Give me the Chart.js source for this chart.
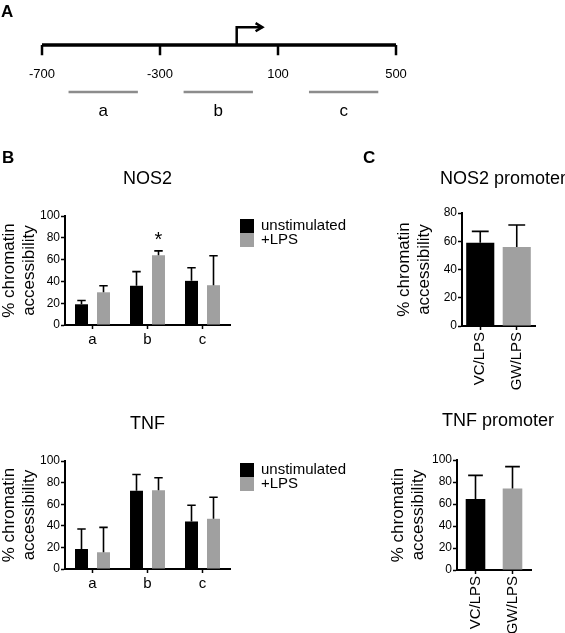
<!DOCTYPE html>
<html>
<head>
<meta charset="utf-8">
<script src="https://cdn.jsdelivr.net/npm/chart.js@4.4.1/dist/chart.umd.min.js"></script>
<style>
body { margin: 0; background: #fff; }
#fig { position: relative; width: 565px; height: 633px; overflow: hidden; font-family: 'Liberation Sans', Arial, sans-serif; }
.box { position: absolute; }
.box canvas { display: block; }
.tag { position: absolute; font-weight: bold; font-size: 17px; line-height: 17px; }
</style>
</head>
<body>
<div id="fig">
  <div class="box" style="left:0;top:0"><canvas id="mapChart" width="420" height="130"></canvas></div>
  <div class="box" style="left:0;top:150px"><canvas id="nosChart" width="360" height="200"></canvas></div>
  <div class="box" style="left:0;top:395px"><canvas id="tnfChart" width="360" height="200"></canvas></div>
  <div class="box" style="left:385px;top:150px;width:236px"><canvas id="nosPromChart" width="236" height="250"></canvas></div>
  <div class="box" style="left:385px;top:392px;width:226px"><canvas id="tnfPromChart" width="226" height="241"></canvas></div>
  <div class="tag" style="left:1px;top:3px">A</div>
  <div class="tag" style="left:2px;top:149px">B</div>
  <div class="tag" style="left:363px;top:149px">C</div>
</div>
<script>
// panel A - promoter map (bp positions)
const mapTicks = [-700, -300, 100, 500];
const tssPos = -40;
const arrowEnd = 47;
const regionNames = ['a', 'b', 'c'];
const regionStart = [-610, -220, 205];
const regionEnd = [-375, 15, 440];

// panel B - % chromatin accessibility per region
const regions = ['a', 'b', 'c'];
const seriesNames = ['unstimulated', '+LPS'];
const nosUnstim = [19, 36, 40.5];
const nosUnstimErr = [3.5, 13, 12];
const nosLps = [30, 64, 36.5];
const nosLpsErr = [6, 4, 27];
const nosStars = ['', '*', ''];
const tnfUnstim = [18.5, 72.5, 44];
const tnfUnstimErr = [18.5, 15, 15];
const tnfLps = [15.5, 73, 46.5];
const tnfLpsErr = [23, 11.5, 20];

// panel C - promoter accessibility per treatment
const treatments = ['VC/LPS', 'GW/LPS'];
const nosProm = [59, 56];
const nosPromErr = [8, 15.5];
const tnfProm = [64.5, 74];
const tnfPromErr = [21.5, 20];

const BLACK = '#000000';
const GREY = '#a0a0a0';
const FONT = "'Liberation Sans', Arial, sans-serif";

Chart.defaults.font.family = FONT;
Chart.defaults.color = '#000';
Chart.defaults.animation = false;
Chart.defaults.responsive = false;
Chart.defaults.plugins.legend.display = false;
Chart.defaults.plugins.tooltip.enabled = false;

// one sided error bars (+ significance star)
const errorBars = {
  id: 'errorBars',
  afterDatasetsDraw(chart, args, opts) {
    const ctx = chart.ctx;
    const y = chart.scales.y;
    ctx.save();
    ctx.strokeStyle = '#000';
    ctx.lineWidth = 1.6;
    chart.data.datasets.forEach((ds, di) => {
      if (!ds.errors) return;
      chart.getDatasetMeta(di).data.forEach((bar, i) => {
        const top = y.getPixelForValue(ds.data[i] + ds.errors[i]);
        const half = bar.width * (opts.cap || 0.65) / 2;
        ctx.beginPath();
        ctx.moveTo(bar.x, bar.y);
        ctx.lineTo(bar.x, top);
        ctx.moveTo(bar.x - half, top);
        ctx.lineTo(bar.x + half, top);
        ctx.stroke();
        if (ds.stars && ds.stars[i]) {
          ctx.fillStyle = '#000';
          ctx.font = '20px ' + FONT;
          ctx.textAlign = 'center';
          ctx.textBaseline = 'middle';
          ctx.fillText(ds.stars[i], bar.x, top - 10);
        }
      });
    });
    ctx.restore();
  }
};

// legend block to the right of the plot
const sideLegend = {
  id: 'sideLegend',
  afterDraw(chart, args, opts) {
    if (!opts || opts.x === undefined) return;
    const ctx = chart.ctx;
    ctx.save();
    ctx.font = '15px ' + FONT;
    ctx.textBaseline = 'middle';
    ctx.textAlign = 'left';
    chart.data.datasets.forEach((ds, i) => {
      const top = opts.y + i * 14;
      ctx.fillStyle = ds.backgroundColor;
      ctx.fillRect(opts.x, top, 14, 14);
      ctx.fillStyle = '#000';
      ctx.fillText(ds.label, opts.x + 21, top + 7);
    });
    ctx.restore();
  }
};

function barChart(id, o) {
  const scales = {
    y: {
      min: 0, max: o.yMax,
      ticks: { stepSize: 20, padding: 1, font: { size: 12 } },
      grid: { drawOnChartArea: false, tickLength: 4, tickColor: '#000', tickWidth: 1.5 },
      border: { display: true, color: '#000', width: 2 },
      title: {
        display: true, text: ['% chromatin', 'accessibility'],
        font: { size: 17, lineHeight: 1.15 }, padding: { top: o.yTitlePad, bottom: 0 }
      },
      afterFit(s) { s.width = o.yWidth; }
    },
    x: {
      ticks: { font: { size: 15 }, padding: 2, autoSkip: false, maxRotation: o.rot, minRotation: o.rot },
      grid: { offset: false, drawOnChartArea: false, tickLength: 4, tickColor: '#000', tickWidth: 1.5 },
      border: { display: true, color: '#000', width: 2 },
      afterFit(s) { s.height = o.xHeight; }
    }
  };
  if (o.rightGap) {
    // empty spacer on the right so the full-width title centres like the original
    scales.gap = {
      position: 'right', min: 0, max: o.yMax,
      ticks: { display: false }, grid: { display: false, drawTicks: false }, border: { display: false },
      afterFit(s) { s.width = o.rightGap; }
    };
  }
  return new Chart(document.getElementById(id), {
    type: 'bar',
    data: { labels: o.labels, datasets: o.datasets },
    plugins: [errorBars, sideLegend],
    options: {
      layout: { padding: { left: 0, top: 0, right: o.padRight, bottom: 0 } },
      datasets: { bar: { barPercentage: o.barPct, categoryPercentage: o.catPct } },
      plugins: {
        title: {
          display: true, text: o.title, fullSize: o.titleFull,
          font: { size: 18, weight: 'normal' },
          padding: { top: 18, bottom: o.titleGap }
        },
        errorBars: { cap: o.cap },
        sideLegend: o.legend
      },
      scales: scales
    }
  });
}

function groupSets(a, aErr, b, bErr, stars) {
  return [
    { label: seriesNames[0], data: a, errors: aErr, backgroundColor: BLACK },
    { label: seriesNames[1], data: b, errors: bErr, stars: stars, backgroundColor: GREY }
  ];
}

barChart('nosChart', {
  title: 'NOS2', labels: regions, datasets: groupSets(nosUnstim, nosUnstimErr, nosLps, nosLpsErr, nosStars),
  yMax: 100, yWidth: 65, xHeight: 25, padRight: 130, titleGap: 26.4, yTitlePad: 0, titleFull: false,
  barPct: 0.59, catPct: 0.8, rot: 0, cap: 0.65, legend: { x: 240, y: 69 }
});

barChart('tnfChart', {
  title: 'TNF', labels: regions, datasets: groupSets(tnfUnstim, tnfUnstimErr, tnfLps, tnfLpsErr, null),
  yMax: 100, yWidth: 65, xHeight: 26, padRight: 130, titleGap: 26.4, yTitlePad: 0, titleFull: false,
  barPct: 0.59, catPct: 0.8, rot: 0, cap: 0.65, legend: { x: 240, y: 68 }
});

barChart('nosPromChart', {
  title: 'NOS2 promoter', labels: treatments,
  datasets: [{ label: 'NOS2 promoter', data: nosProm, errors: nosPromErr, backgroundColor: [BLACK, GREY] }],
  yMax: 80, yWidth: 77, xHeight: 74, padRight: 0, rightGap: 86, titleGap: 23.4, yTitlePad: 10, titleFull: true,
  barPct: 0.77, catPct: 1, rot: 90, cap: 0.6
});

barChart('tnfPromChart', {
  title: 'TNF promoter', labels: treatments,
  datasets: [{ label: 'TNF promoter', data: tnfProm, errors: tnfPromErr, backgroundColor: [BLACK, GREY] }],
  yMax: 100, yWidth: 72, xHeight: 63, padRight: 0, rightGap: 80, titleGap: 28.4, yTitlePad: 4, titleFull: true,
  barPct: 0.53, catPct: 1, rot: 90, cap: 0.75
});

// panel A map drawn on a linear bp axis
function mapLine(pts, color, width) {
  return { data: pts, showLine: true, borderColor: color, borderWidth: width, pointRadius: 0,
           clip: false, borderJoinStyle: 'miter' };
}

new Chart(document.getElementById('mapChart'), {
  type: 'scatter',
  data: {
    datasets: [
      mapLine([{ x: mapTicks[0], y: 0 }, { x: mapTicks[mapTicks.length - 1], y: 0 }], '#000', 3.5),
      ...mapTicks.map(v => mapLine([{ x: v, y: 0 }, { x: v, y: -0.6 }], '#000', 2.5)),
      mapLine([{ x: tssPos, y: 0 }, { x: tssPos, y: 1.05 }, { x: arrowEnd, y: 1.05 }], '#000', 2.5),
      mapLine([{ x: arrowEnd - 23, y: 1.29 }, { x: arrowEnd, y: 1.05 }, { x: arrowEnd - 23, y: 0.81 }], '#000', 2.5),
      ...regionNames.map((n, i) => mapLine([{ x: regionStart[i], y: -2.76 }, { x: regionEnd[i], y: -2.76 }], '#8c8c8c', 2.5))
    ]
  },
  options: {
    layout: { padding: { left: 42, right: 24, top: 28, bottom: 0 } },
    scales: {
      x: {
        type: 'linear', min: -700, max: 500, weight: 0,
        afterBuildTicks(s) { s.ticks = mapTicks.map(v => ({ value: v })); },
        ticks: { autoSkip: false, maxRotation: 0, padding: 5, font: { size: 13 }, callback: v => String(v) },
        grid: { display: false, drawTicks: false }, border: { display: false },
        afterFit(s) { s.height = 22; }
      },
      x2: {
        type: 'linear', position: 'bottom', min: -700, max: 500, weight: 1,
        afterBuildTicks(s) { s.ticks = regionStart.map((v, i) => ({ value: (v + regionEnd[i]) / 2 })); },
        ticks: { autoSkip: false, maxRotation: 0, padding: 17, font: { size: 17 }, callback: (v, i) => regionNames[i] },
        grid: { display: false, drawTicks: false }, border: { display: false },
        afterFit(s) { s.height = 46; }
      },
      y: { display: false, min: -1, max: 1 }
    }
  }
});
</script>
</body>
</html>
